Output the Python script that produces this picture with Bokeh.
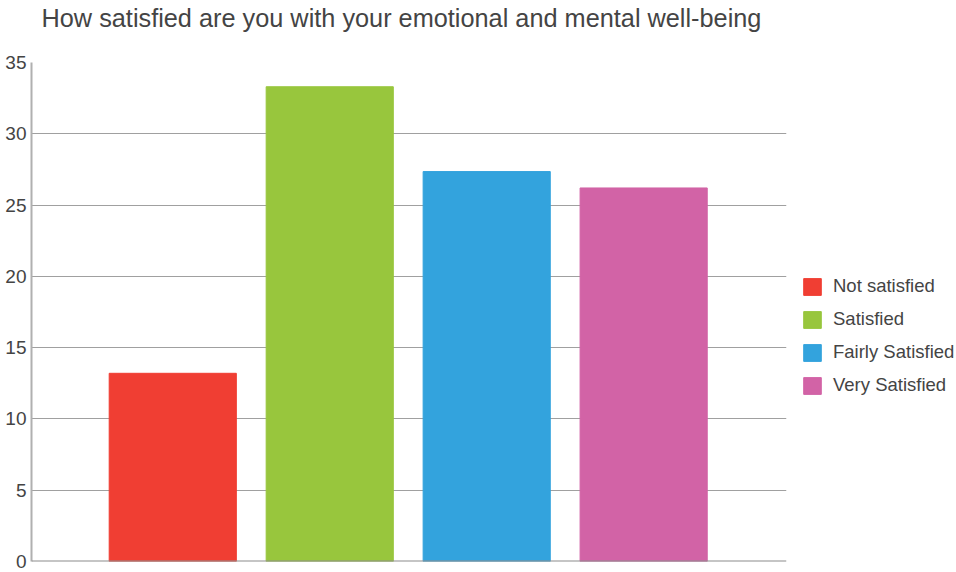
from bokeh.plotting import figure
from bokeh.models import ColumnDataSource, Range1d, Span, FixedTicker, Legend, LegendItem, Title
from bokeh.embed import file_html
from bokeh.resources import INLINE

title_text = "How satisfied are you with your emotional and mental well-being"
categories = ["Not satisfied", "Satisfied", "Fairly Satisfied", "Very Satisfied"]
values = [13.2, 33.3, 27.35, 26.2]
colors = ["#F03E33", "#98C63D", "#33A3DD", "#D263A6"]
y_ticks = [0, 5, 10, 15, 20, 25, 30, 35]

FONT = "Liberation Sans"

src = ColumnDataSource(dict(x=list(range(len(categories))), top=values, color=colors, cat=categories))

p = figure(width=956, height=572, frame_width=755, frame_height=499,
           output_backend="svg", toolbar_location=None,
           x_range=Range1d(-0.9, 3.91), y_range=Range1d(0, 35),
           min_border_left=31, min_border_right=170, min_border_top=62, min_border_bottom=11)

p.title.text = title_text
p.title.text_font = FONT
p.title.text_font_size = "25.3px"
p.title.text_font_style = "normal"
p.title.text_color = "#444444"
p.title.offset = 10
p.title.standoff = 0
p.title.vertical_align = "top"

# blank spacer between the title and the plot frame
p.add_layout(Title(text=" ", text_font_size="10px", standoff=16), "above")

r = p.vbar(x="x", top="top", width=0.81, color="color", source=src)

p.xaxis.visible = False
p.xgrid.visible = False
p.outline_line_color = None

p.yaxis.ticker = FixedTicker(ticks=y_ticks)
p.yaxis.major_tick_in = 0
p.yaxis.major_tick_out = 0
p.yaxis.minor_tick_line_color = None
p.yaxis.axis_line_color = "#b0b0b0"
p.yaxis.axis_line_width = 2
p.yaxis.major_label_text_font = FONT
p.yaxis.major_label_text_font_size = "19px"
p.yaxis.major_label_text_color = "#444444"
p.yaxis.major_label_standoff = 5

p.ygrid.ticker = FixedTicker(ticks=y_ticks)
p.ygrid.grid_line_color = "#a0a0a0"
p.ygrid.grid_line_width = 1

p.add_layout(Span(location=0, dimension="width", line_color="#8c8c8c", line_width=2))

items = [LegendItem(label=c, renderers=[r], index=i) for i, c in enumerate(categories)]
legend = Legend(items=items, location=(15, 165), padding=0, margin=0,
                border_line_color=None, background_fill_alpha=0,
                glyph_width=22, glyph_height=21, label_standoff=10, spacing=11,
                label_text_font=FONT, label_text_font_size="18.5px", label_text_color="#444444")
p.add_layout(legend, "right")

open("out.html", "w").write(file_html(p, INLINE))
